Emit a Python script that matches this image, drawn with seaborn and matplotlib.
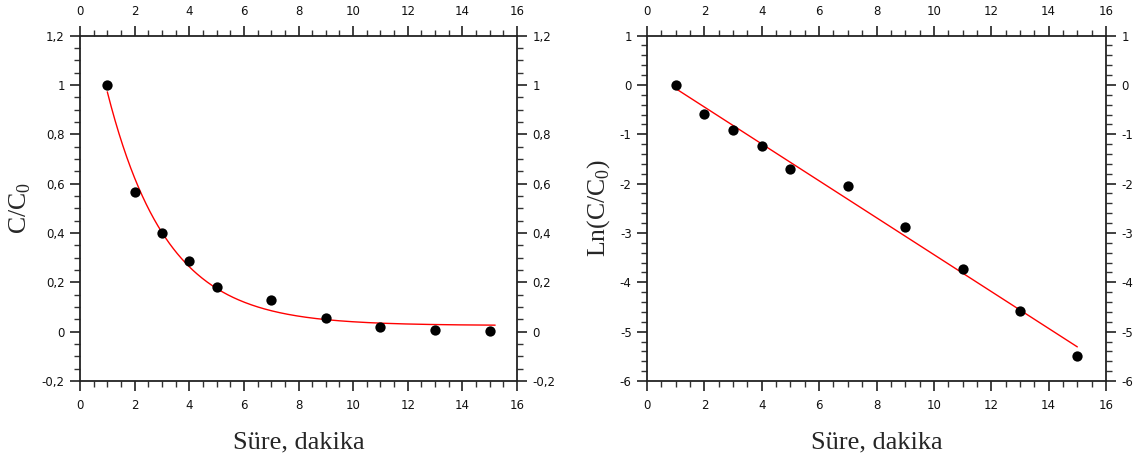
import numpy as np
import pandas as pd
import matplotlib
matplotlib.use("Agg")
import matplotlib.pyplot as plt
from matplotlib.ticker import MultipleLocator, FuncFormatter
import seaborn as sns

# ---- data ----
time_min = [1, 2, 3, 4, 5, 7, 9, 11, 13, 15]
c_ratio = [1.0, 0.565, 0.40, 0.285, 0.18, 0.128, 0.055, 0.02, 0.008, 0.003]
ln_ratio = [0.0, -0.58, -0.91, -1.24, -1.71, -2.04, -2.87, -3.73, -4.59, -5.50]

# exponential-decay fit: y = y0 + A*exp(-k t)
fit_y0 = 0.025
fit_A = 1.50
fit_k = 0.46

x_label = "Süre, dakika"
y_label_left = r"C/C$_\mathrm{0}$"
y_label_right = r"Ln(C/C$_\mathrm{0}$)"

sns.set_style("ticks")
plt.rcParams['font.family'] = ['DejaVu Sans']
plt.rcParams['mathtext.fontset'] = 'custom'
plt.rcParams['mathtext.rm'] = 'Liberation Serif'

df = pd.DataFrame({"t": time_min, "c": c_ratio, "ln": ln_ratio})

t_fit = np.linspace(1, 15.2, 300)
curve = pd.DataFrame({"t": t_fit, "y": fit_y0 + fit_A * np.exp(-fit_k * t_fit)})

slope, intercept = np.polyfit(time_min, ln_ratio, 1)
t_lin = np.array([1.0, 15.0])
line = pd.DataFrame({"t": t_lin, "y": intercept + slope * t_lin})

fig = plt.figure(figsize=(11.43, 4.61), dpi=100)
ax1 = fig.add_axes([80/1143, 1-381/461, (517-80)/1143, (381-35.6)/461])
ax2 = fig.add_axes([647/1143, 1-381/461, (1106-647)/1143, (381-35.6)/461])

comma = FuncFormatter(lambda v, p: (f"{v:.1f}".rstrip('0').rstrip('.') if abs(v) > 1e-9 else "0").replace('.', ','))
intfmt = FuncFormatter(lambda v, p: f"{int(round(v))}")

xlabel_font = dict(family='Liberation Serif', size=19)
ylabel_font = dict(family='Liberation Serif', size=18.5)

for ax, ycol, curve_df, ylab, ylim, ymaj, ymin in [
    (ax1, "c", curve, y_label_left, (-0.2, 1.2), 0.2, 0.05),
    (ax2, "ln", line, y_label_right, (-6, 1), 1, 0.2),
]:
    sns.lineplot(data=curve_df, x="t", y="y", ax=ax, color='#ff0000', linewidth=1.0)
    sns.scatterplot(data=df, x="t", y=ycol, ax=ax, color='black', s=55,
                    edgecolor='black', linewidth=0, zorder=5)
    ax.set_xlim(0, 16)
    ax.set_ylim(*ylim)
    ax.xaxis.set_major_locator(MultipleLocator(2))
    ax.xaxis.set_minor_locator(MultipleLocator(0.5))
    ax.yaxis.set_major_locator(MultipleLocator(ymaj))
    ax.yaxis.set_minor_locator(MultipleLocator(ymin))
    ax.xaxis.set_major_formatter(intfmt)
    ax.yaxis.set_major_formatter(comma if ax is ax1 else intfmt)
    ax.tick_params(which='both', direction='out', top=True, right=True,
                   labeltop=True, labelright=True, color='#333333',
                   labelsize=8.5, labelcolor='#111111')
    ax.tick_params(which='major', length=7, width=1.3, pad=4)
    ax.tick_params(axis='x', which='major', pad=6)
    ax.tick_params(which='minor', length=4, width=1.0)
    for s in ax.spines.values():
        s.set_linewidth(1.3)
        s.set_color('#222222')
    ax.set_xlabel(x_label, fontdict=xlabel_font, labelpad=14)
    ax.set_ylabel(ylab, fontdict=ylabel_font, labelpad=6)
    ax.grid(False)

fig.savefig("out.png", dpi=100)
